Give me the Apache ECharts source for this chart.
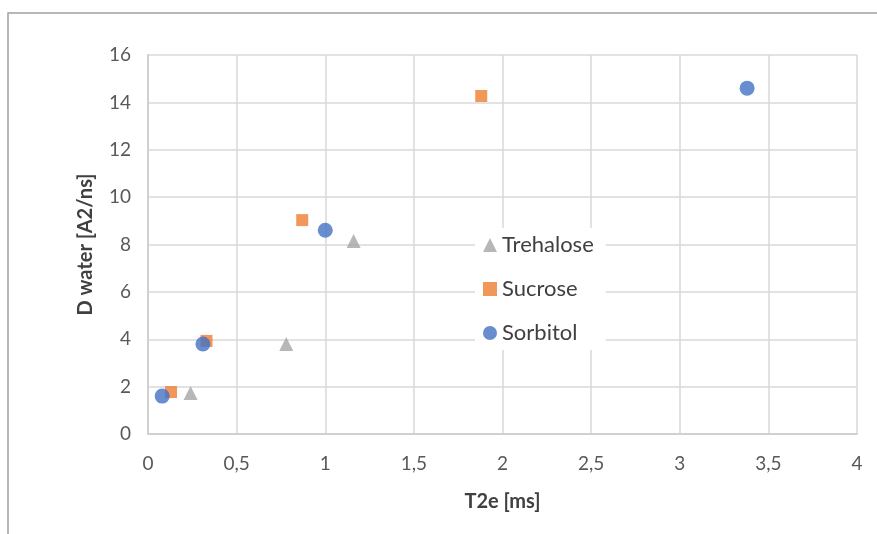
<!DOCTYPE html>
<html>
<head>
<meta charset="utf-8">
<script src="https://cdn.jsdelivr.net/npm/echarts@6/dist/echarts.min.js"></script>
<style>
  html, body { margin: 0; padding: 0; background: #fff; }
  #chart { width: 877px; height: 534px; }
</style>
</head>
<body>
<div id="chart"></div>
<script>
// values: [T2e, D water]
const trehalose = [[0.24, 1.73], [0.78, 3.8], [1.16, 8.15]]
const sucrose = [[0.13, 1.77], [0.33, 3.93], [0.87, 9.03], [1.88, 14.27]]
const sorbitol = [[0.08, 1.6], [0.31, 3.8], [1.0, 8.6], [3.38, 14.6]]

const font = 'Lato, "Open Sans", sans-serif'
const chart = echarts.init(document.getElementById('chart'))

chart.setOption({
  animation: false,
  textStyle: { fontFamily: font },
  graphic: [
    {
      type: 'rect',
      shape: { x: 8, y: 13, width: 900, height: 600 },
      style: { fill: 'none', stroke: '#a0a0a0', lineWidth: 1.5 },
      silent: true,
    },
  ],
  grid: { left: 148, right: 20, top: 55, bottom: 100 },
  legend: {
    orient: 'vertical',
    left: 475,
    top: 228,
    padding: [6, 12, 6, 8],
    backgroundColor: '#fff',
    itemGap: 22,
    itemWidth: 14,
    itemHeight: 14,
    textStyle: { fontFamily: font, fontSize: 22, color: '#404040' },
    data: [
      { name: 'Trehalose', icon: 'triangle', itemStyle: { color: '#a5a5a5' } },
      { name: 'Sucrose', icon: 'rect', itemStyle: { color: '#ed7d31' } },
      { name: 'Sorbitol', icon: 'circle', itemStyle: { color: '#4472c4' } },
    ],
  },
  xAxis: {
    type: 'value',
    min: 0,
    max: 4,
    interval: 0.5,
    name: 'T2e [ms]',
    nameLocation: 'middle',
    nameGap: 58,
    nameTextStyle: { fontFamily: font, fontSize: 20, fontWeight: 'bold', color: '#404040' },
    axisLine: { show: true, lineStyle: { color: '#d0d0d0', width: 2 } },
    axisTick: { show: false },
    axisLabel: {
      fontSize: 19,
      color: '#595959',
      margin: 20,
      formatter: (v) => String(v).replace('.', ','),
    },
    splitLine: { show: true, lineStyle: { color: '#d9d9d9', width: 1.5 } },
  },
  yAxis: {
    type: 'value',
    min: 0,
    max: 16,
    interval: 2,
    name: 'D water [A2/ns]',
    nameLocation: 'middle',
    nameGap: 52,
    nameTextStyle: { fontFamily: font, fontSize: 20, fontWeight: 'bold', color: '#404040' },
    axisLine: { show: true, lineStyle: { color: '#d0d0d0', width: 2 } },
    axisTick: { show: false },
    axisLabel: { fontSize: 19, color: '#595959', margin: 17 },
    splitLine: { show: true, lineStyle: { color: '#d9d9d9', width: 1.5 } },
  },
  series: [
    {
      name: 'Trehalose',
      type: 'scatter',
      symbol: 'triangle',
      symbolSize: 14,
      itemStyle: { color: '#a5a5a5' },
      data: trehalose,
    },
    {
      name: 'Sucrose',
      type: 'scatter',
      symbol: 'rect',
      symbolSize: 12,
      itemStyle: { color: '#ed7d31' },
      data: sucrose,
    },
    {
      name: 'Sorbitol',
      type: 'scatter',
      symbol: 'circle',
      symbolSize: 15,
      itemStyle: { color: '#4472c4' },
      data: sorbitol,
    },
  ],
})
</script>
</body>
</html>
